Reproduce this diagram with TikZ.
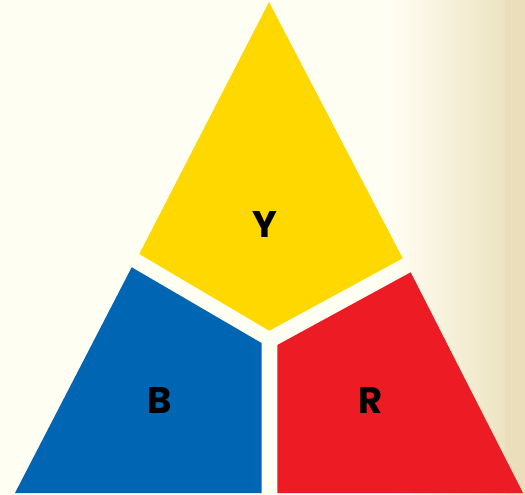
\documentclass[tikz,border=0pt]{standalone}
\usepackage{fontspec}
\setmainfont{Poppins}
\definecolor{cream}{HTML}{FFFEF2}
\definecolor{parch}{HTML}{EADFBA}
\definecolor{tyellow}{HTML}{FFD800}
\definecolor{tblue}{HTML}{0066B3}
\definecolor{tred}{HTML}{ED1C24}
\tikzset{
  region/.style={draw=none},
  letter/.style={font=\fontsize{37}{37}\selectfont\bfseries, text=black, inner sep=0pt}
}
\begin{document}
\begin{tikzpicture}[x=1pt,y=-1pt]
\useasboundingbox (0,0) rectangle (525,495);
\fill[cream] (0,0) rectangle (525,495);
\shade[left color=cream, right color=parch, shading angle=90] (390,0) rectangle (525,495);
\fill[parch] (505,0) rectangle (525,495);
% yellow
\fill[tyellow, region] (269,2) -- (402.7,258.3) -- (269.3,330.7) -- (139.3,254) -- cycle;
% blue
\fill[tblue, region] (131.7,267.3) -- (261.5,343) -- (261.5,493) -- (15,493) -- cycle;
% red
\fill[tred, region] (410.7,272.3) -- (277.3,345) -- (277.3,493) -- (523,493) -- cycle;
\node[letter] (Y) at (265,225) {Y};
\node[letter] (B) at (160,401) {B};
\node[letter] (R) at (371,401) {R};
\end{tikzpicture}
\end{document}
